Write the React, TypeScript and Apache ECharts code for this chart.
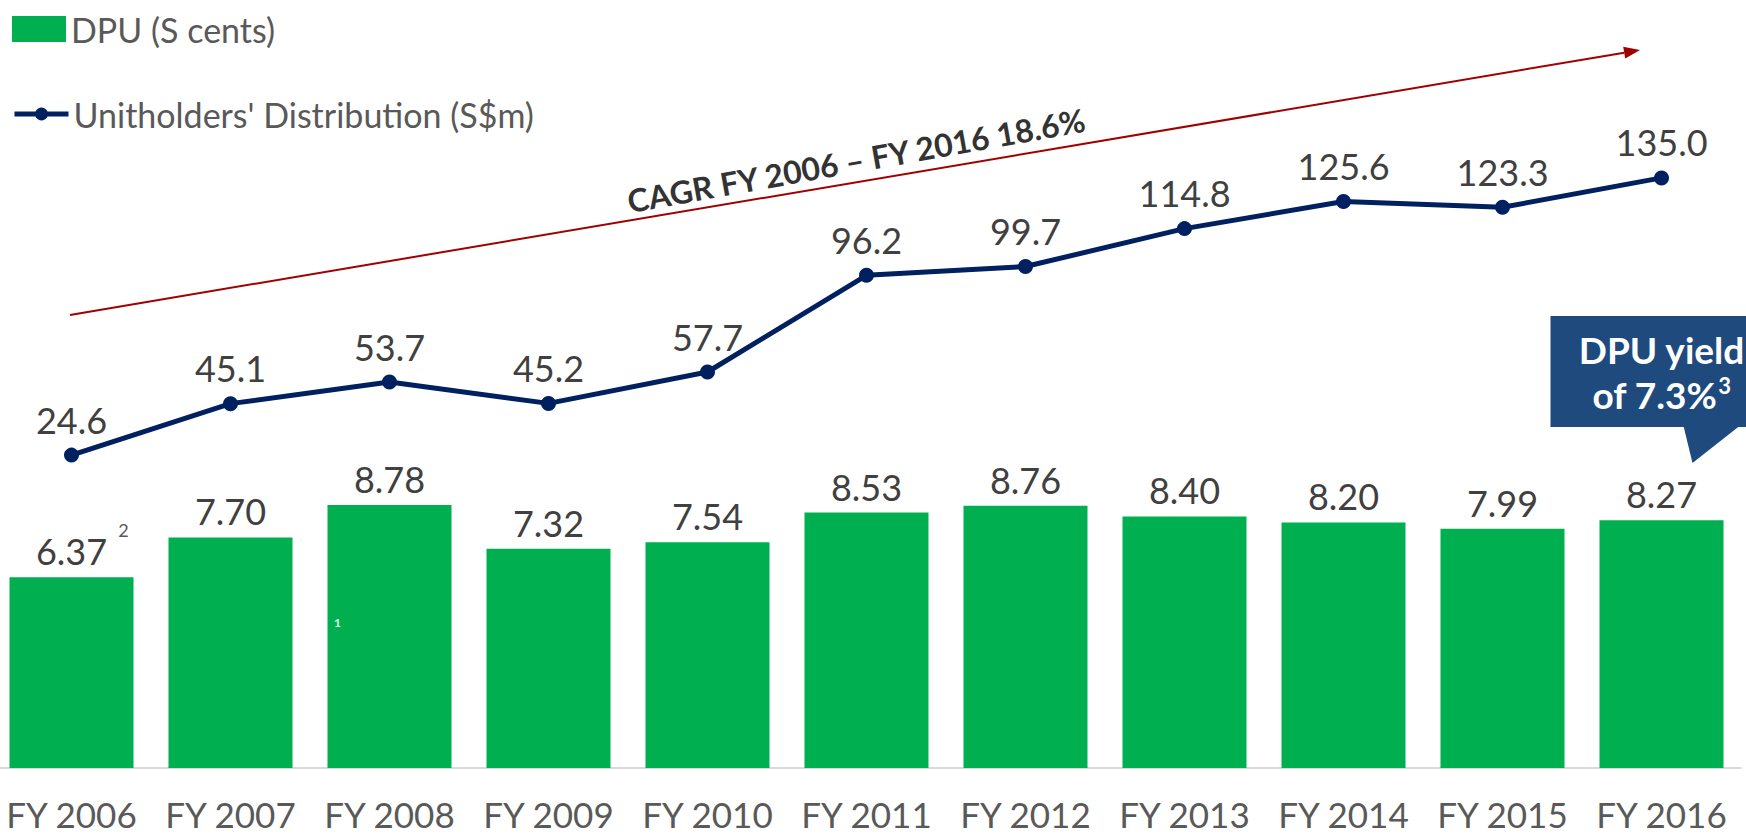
import React, { useEffect, useRef } from 'react';
import * as echarts from 'echarts';

const categories = ['FY 2006', 'FY 2007', 'FY 2008', 'FY 2009', 'FY 2010', 'FY 2011', 'FY 2012', 'FY 2013', 'FY 2014', 'FY 2015', 'FY 2016'];
const dpuValues = [6.37, 7.7, 8.78, 7.32, 7.54, 8.53, 8.76, 8.4, 8.2, 7.99, 8.27];
const distributionValues = [24.6, 45.1, 53.7, 45.2, 57.7, 96.2, 99.7, 114.8, 125.6, 123.3, 135.0];
const dpuName = 'DPU (S cents)';
const distName = "Unitholders' Distribution (S$m)";
const cagrText = 'CAGR FY 2006 – FY 2016 18.6%';
const yieldLine1 = 'DPU yield';
const yieldLine2 = 'of 7.3%';
const yieldNote = '3';
const firstNote = '2';
const barNote = '1';

const FONT = 'Lato, "Open Sans", sans-serif';
const SHIFT = 8; // the chart div starts 8px left of the page

export default function App() {
  const ref = useRef<HTMLDivElement>(null);
  useEffect(() => {
    if (!ref.current) return;
    const chart = echarts.init(ref.current, undefined, { renderer: 'svg' });
    const option: any = {
      animation: false,
      backgroundColor: '#ffffff',
      grid: { left: 0, right: 5, top: 30, bottom: 66, containLabel: false },
      legend: [
        {
          data: [dpuName],
          left: 12 + SHIFT,
          top: 12,
          padding: 0,
          itemWidth: 54,
          itemHeight: 26,
          icon: 'rect',
          textStyle: { fontSize: 34, color: '#595959', fontFamily: FONT },
        },
        {
          data: [distName],
          left: 12 + SHIFT,
          top: 97,
          padding: 0,
          itemWidth: 54,
          itemHeight: 16,
          lineStyle: { width: 5 },
          textStyle: { fontSize: 34, color: '#595959', fontFamily: FONT },
        },
      ],
      xAxis: {
        type: 'category',
        data: categories,
        axisLine: { lineStyle: { color: '#D9D9D9', width: 2 } },
        axisTick: { show: false },
        axisLabel: { interval: 0, fontSize: 35, color: '#595959', fontFamily: FONT, margin: 28 },
      },
      yAxis: [
        { type: 'value', min: 0, max: 24.64, show: false, splitLine: { show: false } },
        { type: 'value', min: -100, max: 193.9, show: false, splitLine: { show: false } },
      ],
      series: [
        {
          name: dpuName,
          type: 'bar',
          data: dpuValues,
          barWidth: '78%',
          itemStyle: { color: '#00B050' },
          label: {
            show: true,
            position: 'top',
            distance: 8,
            fontSize: 36,
            color: '#404040',
            fontFamily: FONT,
            formatter: (p: any) => Number(p.value).toFixed(2),
          },
        },
        {
          name: distName,
          type: 'line',
          yAxisIndex: 1,
          data: distributionValues,
          symbol: 'circle',
          symbolSize: 15,
          itemStyle: { color: '#002060' },
          lineStyle: { color: '#002060', width: 5 },
          label: {
            show: true,
            position: 'top',
            distance: 10,
            fontSize: 36,
            color: '#404040',
            fontFamily: FONT,
            formatter: (p: any) => Number(p.value).toFixed(1),
          },
        },
      ],
    };
    chart.setOption(option);

    const p1 = chart.convertToPixel({ xAxisIndex: 0, yAxisIndex: 0 }, [categories[0], dpuValues[0]]) as number[];
    const p3 = chart.convertToPixel({ xAxisIndex: 0, yAxisIndex: 0 }, [categories[2], 4.87]) as number[];
    const pLast = chart.convertToPixel({ xAxisIndex: 0, yAxisIndex: 0 }, [categories[10], dpuValues[10]]) as number[];
    const cx = pLast[0];

    // trend arrow
    const ax0 = 70 + SHIFT, ay0 = 315, ax1 = 1640 + SHIFT, ay1 = 50;
    const ang = Math.atan2(ay1 - ay0, ax1 - ax0);
    const hl = 16, hw = 6;
    const bx = ax1 - hl * Math.cos(ang), by = ay1 - hl * Math.sin(ang);
    const nx = -Math.sin(ang), ny = Math.cos(ang);

    chart.setOption({
      graphic: [
        {
          type: 'line',
          silent: true,
          shape: { x1: ax0, y1: ay0, x2: bx, y2: by },
          style: { stroke: '#A00000', lineWidth: 2 },
        },
        {
          type: 'polygon',
          silent: true,
          shape: { points: [[ax1, ay1], [bx + nx * hw, by + ny * hw], [bx - nx * hw, by - ny * hw]] },
          style: { fill: '#A00000' },
        },
        {
          type: 'text',
          x: p1[0] + 52,
          y: p1[1] - 56,
          style: { text: firstNote, fontSize: 18, fill: '#595959', fontFamily: FONT, align: 'center', verticalAlign: 'top' },
        },
        {
          type: 'text',
          x: p3[0] - 52,
          y: p3[1],
          z: 100,
          style: { text: barNote, fontSize: 12, fontWeight: 'bold', fill: '#E0F2E6', fontFamily: FONT, align: 'center', verticalAlign: 'middle' },
        },
        {
          type: 'text',
          x: 856 + SHIFT,
          y: 160,
          rotation: 0.177,
          style: {
            text: cagrText,
            fontSize: 32,
            fontWeight: 'bold',
            fill: '#333333',
            fontFamily: FONT,
            align: 'center',
            verticalAlign: 'middle',
          },
        },
        {
          type: 'rect',
          shape: { x: cx - 111, y: 316, width: 222, height: 111 },
          style: { fill: '#1F4A7E' },
        },
        {
          type: 'polygon',
          shape: { points: [[cx + 22, 426], [cx + 78, 426], [cx + 31, 463]] },
          style: { fill: '#1F4A7E' },
        },
        {
          type: 'text',
          x: cx,
          y: 372,
          style: {
            text: '{a|' + yieldLine1 + '}\n{a|' + yieldLine2 + '}{s|' + yieldNote + '}',
            align: 'center',
            verticalAlign: 'middle',
            rich: {
              a: { fontSize: 37, fontWeight: 'bold', fill: '#ffffff', fontFamily: FONT, lineHeight: 45 },
              s: { fontSize: 22, fontWeight: 'bold', fill: '#ffffff', fontFamily: FONT, lineHeight: 45, verticalAlign: 'top', padding: [2, 0, 0, 1] },
            },
          },
        },
      ],
    });

    return () => chart.dispose();
  }, []);
  return (
    <div
      ref={ref}
      style={{ position: 'absolute', left: -SHIFT, top: 0, width: 1746 + SHIFT, height: 834 }}
    />
  );
}
